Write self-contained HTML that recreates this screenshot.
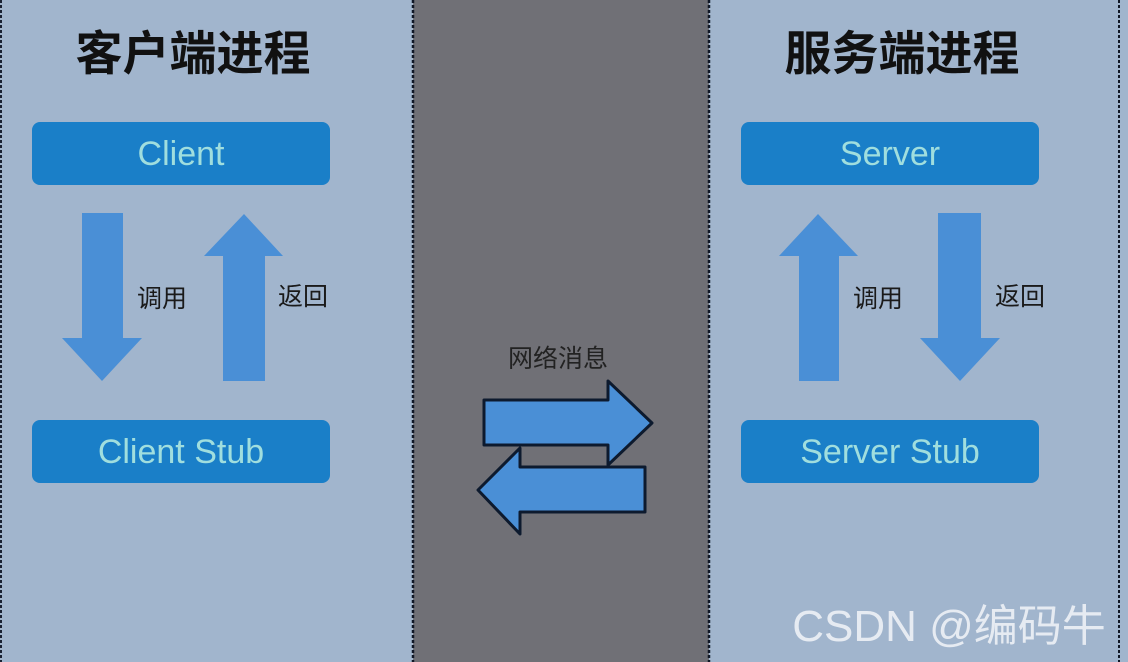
<!DOCTYPE html>
<html><head><meta charset="utf-8"><style>
html,body{margin:0;padding:0;width:1128px;height:662px;overflow:hidden;background:#a1b5cd}
</style></head><body>
<svg width="1128" height="662" xmlns="http://www.w3.org/2000/svg" style="display:block">
<rect x="0" y="0" width="1128" height="662" fill="#a1b5cd"/>
<rect x="413" y="0" width="296" height="662" fill="#707076"/>
<line x1="1" y1="0" x2="1" y2="662" stroke="#1a2233" stroke-width="2" stroke-dasharray="3,2"/>
<line x1="413" y1="0" x2="413" y2="662" stroke="#111827" stroke-width="2.5" stroke-dasharray="3,2"/>
<line x1="709" y1="0" x2="709" y2="662" stroke="#111827" stroke-width="2.5" stroke-dasharray="3,2"/>
<line x1="1119" y1="0" x2="1119" y2="662" stroke="#111827" stroke-width="2" stroke-dasharray="3,2"/>
<g font-family="Liberation Sans, Noto Sans CJK SC, sans-serif">
<text x="193" y="70" font-size="47" font-weight="bold" text-anchor="middle" fill="#111">客户端进程</text>
<text x="902" y="70" font-size="47" font-weight="bold" text-anchor="middle" fill="#111">服务端进程</text>
<g fill="#1a7fc8">
<rect x="32" y="122" width="298" height="63" rx="8"/>
<rect x="32" y="420" width="298" height="63" rx="8"/>
<rect x="741" y="122" width="298" height="63" rx="8"/>
<rect x="741" y="420" width="298" height="63" rx="8"/>
</g>
<g font-size="34" fill="#a0dede" text-anchor="middle">
<text x="181" y="165">Client</text>
<text x="181" y="463">Client Stub</text>
<text x="890" y="165">Server</text>
<text x="890" y="463">Server Stub</text>
</g>
<g fill="#4a8fd6">
<polygon points="82,213 123,213 123,338 142,338 102,381 62,338 82,338"/>
<polygon points="244,214 283,256 265,256 265,381 223,381 223,256 204,256"/>
<polygon points="818,214 858,256 839,256 839,381 799,381 799,256 779,256"/>
<polygon points="938,213 981,213 981,338 1000,338 960,381 920,338 938,338"/>
</g>
<g font-size="25" fill="#1a1a1a">
<text x="137" y="307">调用</text>
<text x="278" y="305">返回</text>
<text x="853" y="307">调用</text>
<text x="995" y="305">返回</text>
<text x="508" y="367" fill="#222">网络消息</text>
</g>
<g fill="#4a8fd6" stroke="#0d1a2e" stroke-width="3" stroke-linejoin="round">
<polygon points="484,400 608,400 608,381 652,423 608,465 608,445 484,445"/>
<polygon points="645,467 645,512 520,512 520,534 478,490 520,448 520,467"/>
</g>
<text x="949" y="641" font-size="44" fill="#e6ebf2" text-anchor="middle">CSDN @编码牛</text>
</g>
</svg>
</body></html>
